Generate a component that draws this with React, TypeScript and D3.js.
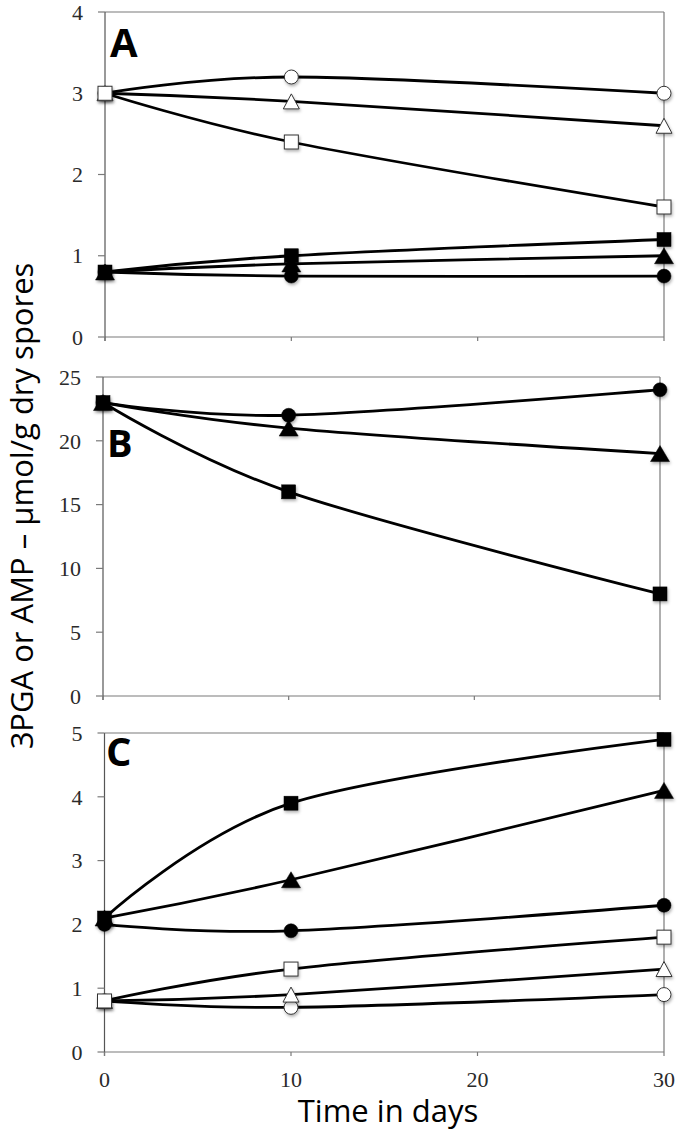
import React from "react";
import * as d3 from "d3";

// ---- data ----
const days = [0, 10, 30];
const xTicks = [0, 10, 20, 30];

// Panel A
const aOpenCircle = [3.0, 3.2, 3.0];
const aOpenTriangle = [3.0, 2.9, 2.6];
const aOpenSquare = [3.0, 2.4, 1.6];
const aFilledCircle = [0.8, 0.75, 0.75];
const aFilledTriangle = [0.8, 0.9, 1.0];
const aFilledSquare = [0.8, 1.0, 1.2];
const aTicks = [0, 1, 2, 3, 4];

// Panel B
const bFilledCircle = [23, 22, 24];
const bFilledTriangle = [23, 21, 19];
const bFilledSquare = [23, 16, 8];
const bTicks = [0, 5, 10, 15, 20, 25];

// Panel C
const cOpenCircle = [0.8, 0.7, 0.9];
const cOpenTriangle = [0.8, 0.9, 1.3];
const cOpenSquare = [0.8, 1.3, 1.8];
const cFilledCircle = [2.0, 1.9, 2.3];
const cFilledTriangle = [2.1, 2.7, 4.1];
const cFilledSquare = [2.1, 3.9, 4.9];
const cTicks = [0, 1, 2, 3, 4, 5];

const yLabel = "3PGA or AMP \u2013 \u03bcmol/g dry spores";
const xLabel = "Time in days";

type Shape = "circle" | "triangle" | "square";
interface Series { values: number[]; shape: Shape; filled: boolean }
interface Panel {
  letter: string; ticks: number[]; yMax: number;
  left: number; right: number; top: number; bottom: number;
  letterX: number; letterY: number; letterSize: number;
  series: Series[]; showXLabels: boolean;
}

const panels: Panel[] = [
  {
    letter: "A", ticks: aTicks, yMax: 4,
    left: 105, right: 664, top: 12, bottom: 337,
    letterX: 110, letterY: 57, letterSize: 40, showXLabels: false,
    series: [
      { values: aOpenCircle, shape: "circle", filled: false },
      { values: aOpenTriangle, shape: "triangle", filled: false },
      { values: aOpenSquare, shape: "square", filled: false },
      { values: aFilledCircle, shape: "circle", filled: true },
      { values: aFilledTriangle, shape: "triangle", filled: true },
      { values: aFilledSquare, shape: "square", filled: true },
    ],
  },
  {
    letter: "B", ticks: bTicks, yMax: 25,
    left: 103, right: 660, top: 377, bottom: 696,
    letterX: 107, letterY: 457, letterSize: 38, showXLabels: false,
    series: [
      { values: bFilledCircle, shape: "circle", filled: true },
      { values: bFilledTriangle, shape: "triangle", filled: true },
      { values: bFilledSquare, shape: "square", filled: true },
    ],
  },
  {
    letter: "C", ticks: cTicks, yMax: 5,
    left: 104.5, right: 664, top: 733, bottom: 1052,
    letterX: 106, letterY: 766, letterSize: 40, showXLabels: true,
    series: [
      { values: cOpenCircle, shape: "circle", filled: false },
      { values: cOpenTriangle, shape: "triangle", filled: false },
      { values: cOpenSquare, shape: "square", filled: false },
      { values: cFilledCircle, shape: "circle", filled: true },
      { values: cFilledTriangle, shape: "triangle", filled: true },
      { values: cFilledSquare, shape: "square", filled: true },
    ],
  },
];

const frameColor = "#7a7a7a";
const serif = "'Liberation Serif', 'Times New Roman', serif";
const sans = "'Open Sans', sans-serif";

function Marker({ x, y, shape, filled }: { x: number; y: number; shape: Shape; filled: boolean }) {
  const fill = filled ? "#000" : "#fff";
  const stroke = filled ? "#000" : "#333";
  const sw = filled ? 0.5 : 1;
  if (shape === "circle") {
    return <circle cx={x} cy={y} r={7} fill={fill} stroke={stroke} strokeWidth={sw} filter="url(#msh)" />;
  }
  if (shape === "square") {
    return <rect x={x - 7} y={y - 7} width={14} height={14} fill={fill} stroke={stroke} strokeWidth={sw} filter="url(#msh)" />;
  }
  const w = filled ? 19 : 16;
  const h = filled ? 16 : 15;
  const d = `M${x},${y - h / 2}L${x + w / 2},${y + h / 2}L${x - w / 2},${y + h / 2}Z`;
  return <path d={d} fill={fill} stroke={stroke} strokeWidth={sw} filter="url(#msh)" />;
}

function PanelView({ p }: { p: Panel }) {
  const x = d3.scaleLinear().domain([0, 30]).range([p.left, p.right]);
  const y = d3.scaleLinear().domain([0, p.yMax]).range([p.bottom, p.top]);
  const line = d3
    .line<[number, number]>()
    .x((d) => x(d[0]))
    .y((d) => y(d[1]))
    .curve(d3.curveCardinal.tension(0));
  return (
    <g>
      {/* frame */}
      <line x1={p.left} x2={p.right} y1={p.top} y2={p.top} stroke={frameColor} strokeWidth={1.2} />
      <line x1={p.right} x2={p.right} y1={p.top} y2={p.bottom} stroke={frameColor} strokeWidth={1.2} />
      <line x1={p.left} x2={p.right} y1={p.bottom} y2={p.bottom} stroke={frameColor} strokeWidth={1.2} />
      <line x1={p.left} x2={p.left} y1={p.top} y2={p.bottom + 4} stroke="#555" strokeWidth={1.2} />
      {/* y ticks */}
      {p.ticks.map((t) => (
        <g key={"yt" + t}>
          <line x1={p.left - 7} x2={p.left} y1={y(t)} y2={y(t)} stroke={frameColor} strokeWidth={1.2} />
          <text x={p.left - 22} y={y(t)} dy="0.35em" textAnchor="end" fontFamily={serif} fontSize={22} fill="#2a2a2a">
            {t}
          </text>
        </g>
      ))}
      {/* x ticks */}
      {xTicks.map((t) => (
        <g key={"xt" + t}>
          <line x1={x(t)} x2={x(t)} y1={p.bottom} y2={p.bottom + 4} stroke={frameColor} strokeWidth={1.2} />
          {p.showXLabels && (
            <text x={x(t)} y={p.bottom + 35} textAnchor="middle" fontFamily={serif} fontSize={22} fill="#2a2a2a">
              {t}
            </text>
          )}
        </g>
      ))}
      {/* lines */}
      {p.series.map((s, i) => (
        <path
          key={"l" + i}
          d={line(days.map((d, j) => [d, s.values[j]] as [number, number])) || ""}
          fill="none"
          stroke="#000"
          strokeWidth={2.8}
        />
      ))}
      {/* markers */}
      {p.series.map((s, i) =>
        days.map((d, j) => (
          <Marker key={"m" + i + "_" + j} x={x(d)} y={y(s.values[j])} shape={s.shape} filled={s.filled} />
        ))
      )}
      <text x={p.letterX} y={p.letterY} fontFamily={sans} fontWeight={700} fontSize={p.letterSize} fill="#000">
        {p.letter}
      </text>
    </g>
  );
}

export default function App() {
  return (
    <svg
      width={680}
      height={1132}
      style={{ position: "absolute", left: 0, top: 0, background: "#fff" }}
    >
      <defs>
        <filter id="msh" x="-50%" y="-50%" width="200%" height="200%">
          <feDropShadow dx={1} dy={2} stdDeviation={1.5} floodColor="#000" floodOpacity={0.3} />
        </filter>
      </defs>
      <rect width={680} height={1132} fill="#fff" />
      {panels.map((p) => (
        <PanelView key={p.letter} p={p} />
      ))}
      <text
        transform="translate(33,506) rotate(-90)"
        textAnchor="middle"
        fontFamily={sans}
        fontSize={31}
        fill="#000"
      >
        {yLabel}
      </text>
      <text x={388} y={1122} textAnchor="middle" fontFamily={sans} fontSize={31} fill="#000">
        {xLabel}
      </text>
    </svg>
  );
}
